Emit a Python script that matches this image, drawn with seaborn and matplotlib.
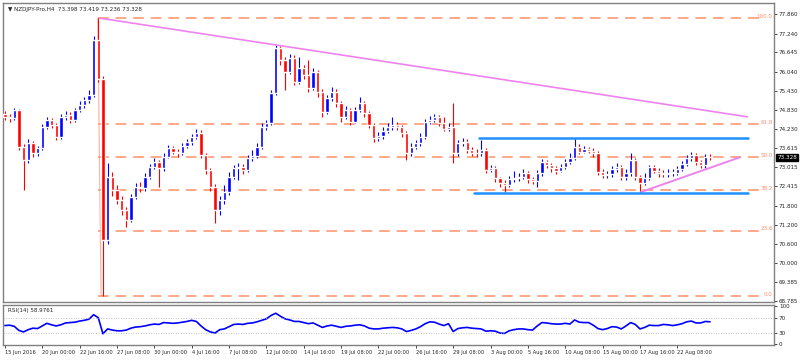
import matplotlib
matplotlib.use("Agg")
import matplotlib.pyplot as plt
import matplotlib.transforms as mtransforms
import numpy as np
import pandas as pd
import seaborn as sns

# NZDJPY H4 candles, one entry per candle (open = previous close)
first_open = 74.70
closes = [74.61, 74.56, 74.82, 73.67, 73.24, 73.77, 73.45, 73.61, 74.30, 74.51,
          74.35, 73.98, 74.61, 74.67, 74.51, 74.82, 74.98, 75.14, 75.30, 77.05,
          75.82, 70.71, 72.72, 72.30, 71.98, 71.66, 71.35, 72.09, 72.40, 72.35,
          72.72, 73.03, 73.19, 72.98, 73.35, 73.61, 73.51, 73.45, 73.69, 73.80,
          73.98, 74.11, 73.40, 72.93, 72.40, 71.66, 71.98, 72.24, 72.72, 72.98,
          73.03, 72.93, 73.30, 73.37, 73.67, 74.30, 74.40, 75.35, 76.77, 76.40,
          76.04, 76.46, 75.72, 76.14, 75.93, 75.51, 76.04, 75.40, 74.77, 75.19,
          75.40, 75.04, 74.61, 74.82, 74.46, 74.82, 75.06, 74.72, 74.35, 73.93,
          74.00, 74.17, 74.28, 74.35, 74.28, 74.09, 73.45, 73.67, 73.77, 73.98,
          74.46, 74.51, 74.59, 74.42, 74.24, 74.30, 73.45, 73.77, 73.82, 73.56,
          73.48, 73.45, 73.56, 72.93, 72.98, 72.66, 72.51, 72.45, 72.63, 72.66,
          72.72, 72.84, 72.63, 72.59, 72.82, 73.19, 73.09, 72.98, 72.91, 73.03,
          73.19, 73.30, 73.67, 73.51, 73.58, 73.54, 73.45, 72.87, 72.77, 72.80,
          72.95, 73.03, 72.72, 72.82, 73.24, 72.72, 72.51, 72.66, 73.01, 72.91,
          72.82, 72.79, 72.84, 72.84, 72.95, 73.12, 73.30, 73.40, 73.19, 73.09,
          73.35, 73.33]
highs = [74.78, 74.70, 74.88, 74.86, 73.75, 73.90, 73.85, 73.70, 74.38, 74.60,
         74.58, 74.42, 74.70, 74.80, 74.75, 74.90, 75.10, 75.25, 75.45, 77.15,
         77.73, 75.90, 73.14, 72.85, 72.45, 72.10, 71.75, 72.18, 72.52, 72.55,
         72.82, 73.12, 73.30, 73.25, 73.45, 73.72, 73.70, 73.60, 73.78, 73.90,
         74.08, 74.24, 74.18, 73.48, 73.00, 72.50, 72.10, 72.45, 72.85, 73.10,
         73.15, 73.12, 73.40, 73.55, 73.78, 74.40, 74.52, 75.45, 76.88, 76.85,
         76.50, 76.58, 76.55, 76.51, 76.25, 76.41, 76.15, 76.10, 75.48, 75.30,
         75.55, 75.48, 75.10, 74.95, 74.90, 74.92, 75.25, 75.12, 74.80, 74.42,
         74.12, 74.28, 74.40, 74.61, 74.45, 74.35, 74.15, 73.78, 73.88, 74.10,
         74.55, 74.65, 74.70, 74.66, 74.61, 74.42, 75.04, 73.88, 73.95, 73.90,
         73.65, 73.60, 73.88, 73.62, 73.10, 73.05, 72.72, 72.60, 72.75, 72.90,
         72.82, 72.95, 72.90, 72.72, 72.92, 73.28, 73.25, 73.15, 73.05, 73.12,
         73.28, 73.45, 73.93, 73.75, 73.68, 73.66, 73.62, 73.52, 72.95, 72.90,
         73.05, 73.15, 73.10, 72.95, 73.45, 73.30, 72.78, 72.82, 73.10, 73.08,
         72.98, 72.92, 72.95, 72.96, 73.05, 73.22, 73.40, 73.51, 73.45, 73.25,
         73.42, 73.42]
lows = [74.50, 74.45, 74.50, 73.55, 72.30, 73.15, 73.35, 73.38, 73.55, 74.22,
        74.25, 73.88, 73.92, 74.52, 74.40, 74.45, 74.75, 74.90, 75.05, 75.25,
        75.70, 68.94, 70.60, 72.10, 71.85, 71.50, 71.14, 71.28, 72.00, 72.22,
        72.28, 72.65, 72.95, 72.40, 72.90, 73.30, 73.42, 73.35, 73.40, 73.62,
        73.72, 73.90, 73.30, 72.80, 72.25, 71.24, 71.50, 71.85, 72.15, 72.65,
        72.60, 72.80, 72.85, 73.22, 73.30, 73.60, 74.20, 74.35, 75.30, 76.25,
        75.46, 75.95, 75.60, 75.65, 75.80, 75.40, 75.45, 75.25, 74.61, 74.70,
        75.10, 74.92, 74.45, 74.55, 74.35, 74.40, 74.75, 74.60, 74.25, 73.80,
        73.85, 73.92, 74.10, 74.20, 74.18, 73.98, 73.24, 73.38, 73.58, 73.70,
        73.90, 74.38, 74.45, 74.32, 74.15, 74.15, 73.14, 73.38, 73.68, 73.45,
        73.38, 73.35, 73.38, 72.82, 72.85, 72.55, 72.40, 72.22, 72.38, 72.55,
        72.58, 72.65, 72.52, 72.48, 72.40, 72.75, 72.98, 72.88, 72.80, 72.85,
        72.95, 73.12, 73.25, 73.42, 73.45, 73.45, 73.35, 72.78, 72.68, 72.68,
        72.72, 72.88, 72.60, 72.62, 72.75, 72.60, 72.24, 72.45, 72.60, 72.82,
        72.72, 72.70, 72.72, 72.75, 72.78, 72.90, 73.05, 73.22, 73.10, 72.98,
        73.00, 73.24]
rsi = [49, 50, 47, 36, 32, 38, 42, 41, 48, 55,
       51, 48, 51, 56, 57, 58, 61, 63, 66, 78,
       70, 27, 40, 37, 35, 35, 37, 42, 45, 46,
       48, 51, 53, 52, 57, 56, 55, 56, 58, 60,
       63, 60, 48, 38, 32, 29, 38, 40, 46, 52,
       53, 52, 55, 56, 59, 63, 67, 76, 82, 74,
       67, 64, 60, 60, 57, 54, 56, 50, 44, 48,
       50, 47, 44, 47, 48, 50, 51, 48, 42, 40,
       40, 42, 43, 44, 43, 40, 33, 36, 40, 46,
       54, 59, 58, 53, 49, 54, 33, 41, 43, 44,
       42, 41, 40, 34, 35, 34, 29, 28, 35, 38,
       40, 40, 38, 37, 48, 57, 56, 54, 53, 53,
       55, 53, 64, 58, 57, 57, 50, 41, 38, 41,
       46, 45, 40, 48, 57, 52, 40, 44, 50, 49,
       49, 52, 51, 49, 51, 54, 59, 61, 56, 56,
       60, 59]

price_ticks = [77.860, 77.240, 76.645, 76.040, 75.430, 74.830, 74.230, 73.615,
               73.015, 72.415, 71.800, 71.200, 70.600, 70.000, 69.385, 68.785]
date_labels = ["15 Jun 2016", "20 Jun 00:00", "22 Jun 16:00", "27 Jun 08:00",
               "30 Jun 00:00", "4 Jul 16:00", "7 Jul 08:00", "12 Jul 00:00",
               "14 Jul 16:00", "19 Jul 08:00", "22 Jul 00:00", "26 Jul 16:00",
               "29 Jul 08:00", "3 Aug 00:00", "5 Aug 16:00", "10 Aug 08:00",
               "15 Aug 00:00", "17 Aug 16:00", "22 Aug 08:00"]
fib_names = ["100.0", "61.8", "50.0", "38.2", "23.6", "0.0"]
fib_high = 77.73
fib_low = 68.94
fib_pcts = [1.0, 0.618, 0.5, 0.382, 0.236, 0.0]

df = pd.DataFrame({"close": closes, "high": highs, "low": lows, "rsi": rsi})
df["open"] = [first_open] + closes[:-1]
df["bar"] = np.arange(len(df))
df["up"] = df["close"] >= df["open"]

sns.set_style("white")
plt.rcParams["font.family"] = ["DejaVu Sans"]

fig = plt.figure(figsize=(8, 3.62), dpi=100)
ax = fig.add_axes([3 / 800, 1 - 302 / 362, 771 / 800, 299 / 362])
ax2 = fig.add_axes([3 / 800, 1 - 345 / 362, 771 / 800, 40 / 362])

blue = "#0000ff"
red = "#ff0000"
salmon = "#ff8f6b"
violet = "#ee82ee"
dodger = "#1e90ff"

# fibonacci retracement
start = 19.9
for name, pct in zip(fib_names, fib_pcts):
    lvl = fib_low + (fib_high - fib_low) * pct
    ax.hlines(lvl, start, 162.2, color=salmon, lw=1.1, linestyles=(0, (7, 4.5)), zorder=1)
    ax.text(164.4, lvl + 0.05, name, color=salmon, fontsize=4.1, ha="right", va="center")
ax.plot([start, 20.6], [fib_high, fib_low], color=salmon, lw=0.8, alpha=0.7, zorder=1)

# candles
cols = np.where(df["up"], blue, red)
ax.vlines(df["bar"], df["low"], df["high"], colors=cols, lw=0.8, zorder=2)
body_low = np.minimum(df["open"], df["close"])
body_h = np.maximum(np.abs(df["close"] - df["open"]), 0.02)
ax.bar(df["bar"], body_h, bottom=body_low, width=0.7, color=cols, zorder=3)

# trend lines
ax.plot([20.3, 159.0], [77.73, 74.61], color=violet, lw=1.2, zorder=4)
ax.plot([136.2, 157.4], [72.23, 73.33], color=violet, lw=1.4, zorder=4)
ax.plot([101.5, 159.1], [73.94, 73.94], color=dodger, lw=1.8, zorder=4)
ax.plot([100.4, 159.1], [72.20, 72.20], color=dodger, lw=1.8, zorder=4)

ax.set_xlim(-0.4, 164.7)
ax.set_ylim(68.755, 78.208)
ax.yaxis.tick_right()
ax.set_yticks(price_ticks)
ax.set_yticklabels(["%.3f" % v for v in price_ticks], fontsize=4.1)
ax.tick_params(axis="y", direction="out", length=2, width=0.6, pad=1.5, right=True)
ax.set_xticks([])
for s in ax.spines.values():
    s.set_color("#808080")
    s.set_linewidth(1.0)

ax.text(0.006, 0.985, "\u25bc NZDJPY-Pro,H4  73.398 73.419 73.236 73.328",
        transform=ax.transAxes, fontsize=4.1, va="top", ha="left")
trans = mtransforms.blended_transform_factory(ax.transAxes, ax.transData)
ax.text(1.004, 73.328, "73.328", transform=trans, fontsize=4.1, color="white",
        va="center", ha="left",
        bbox=dict(boxstyle="square,pad=0.15", fc="black", ec="black"))

# RSI panel
sns.lineplot(data=df, x="bar", y="rsi", ax=ax2, color=blue, lw=1.2)
ax2.axhline(70, color="#b0b0b0", lw=0.6, ls=(0, (1, 2)))
ax2.axhline(30, color="#b0b0b0", lw=0.6, ls=(0, (1, 2)))
ax2.set_xlim(-0.4, 164.7)
ax2.set_ylim(-3, 104)
ax2.yaxis.tick_right()
ax2.set_yticks([100, 70, 30, 0])
ax2.set_yticklabels(["100", "70", "30", "0"], fontsize=4.1)
ax2.tick_params(axis="y", direction="out", length=2, width=0.6, pad=1.5)
ax2.set_xlabel("")
ax2.set_ylabel("")
ax2.set_xticks(np.arange(len(date_labels)) * 8)
ax2.set_xticklabels(date_labels, fontsize=3.7, ha="left")
ax2.tick_params(axis="x", direction="out", length=2, width=0.6, pad=1.5, bottom=True)
for s in ax2.spines.values():
    s.set_color("#808080")
    s.set_linewidth(1.0)
ax2.text(0.006, 0.93, "RSI(14) 58.9761", transform=ax2.transAxes, fontsize=4.1,
         va="top", ha="left")

fig.savefig("out.png", dpi=100)
